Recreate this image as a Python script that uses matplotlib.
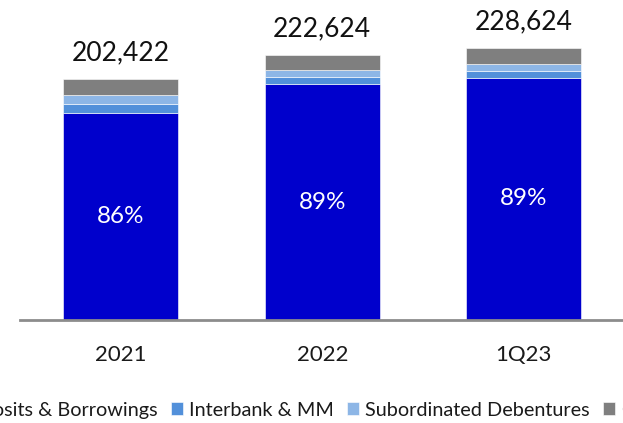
import numpy as np
import matplotlib
matplotlib.use("Agg")
import matplotlib.pyplot as plt

plt.rcParams['font.family'] = ['Lato', 'DejaVu Sans']

# Funding structure by period (MXN millions)
periods = ['2021', '2022', '1Q23']
deposits = [174083, 198135, 203475]
interbank = [7500, 6000, 5800]
subordinated = [7500, 5500, 5800]
other = [13339, 12989, 13549]

series_names = ['Deposits & Borrowings', 'Interbank & MM', 'Subordinated Debentures', 'Other']
series_colors = ['#0000CC', '#5290DA', '#8DB6E6', '#7F7F7F']

fig = plt.figure(figsize=(6.23, 4.23), dpi=100)
ax = fig.add_axes([20 / 623, 103 / 423, 604.5 / 623, 297.65 / 423])

x = np.arange(len(periods))
bottom = np.zeros(len(periods))
for name, vals, color in zip(series_names, [deposits, interbank, subordinated, other], series_colors):
    ax.bar(x, vals, width=0.57, bottom=bottom, color=color, label=name,
           edgecolor='white', linewidth=0.4)
    bottom += np.array(vals)

totals = bottom
# totals above each bar
for xi, t in zip(x, totals):
    ax.annotate(f"{int(t):,}", (xi, t), xytext=(0, 19), textcoords='offset points',
                ha='center', va='center', fontsize=19, color='#111111')

# share of deposits inside the dark segment
for xi, d, t in zip(x, deposits, totals):
    ax.text(xi, d / 2, f"{d / t:.0%}", ha='center', va='center', fontsize=17.5, color='white')

ax.set_xlim(-0.5, 2.5)
ax.set_ylim(0, 250000)
ax.set_xticks(x)
ax.set_xticklabels(periods, fontsize=16, color='#1a1a1a')
ax.tick_params(axis='x', length=0, pad=18)
ax.set_yticks([])
for side in ['top', 'right', 'left']:
    ax.spines[side].set_visible(False)
ax.spines['bottom'].set_color('#8C8C8C')
ax.spines['bottom'].set_linewidth(2)

fig.legend(loc='center', bbox_to_anchor=(0.49, 13 / 423), ncol=4, frameon=False,
           fontsize=14.3, handlelength=0.6, handleheight=0.6, handletextpad=0.28,
           columnspacing=0.7, labelcolor='#1a1a1a')

fig.savefig('out.png', dpi=100)
